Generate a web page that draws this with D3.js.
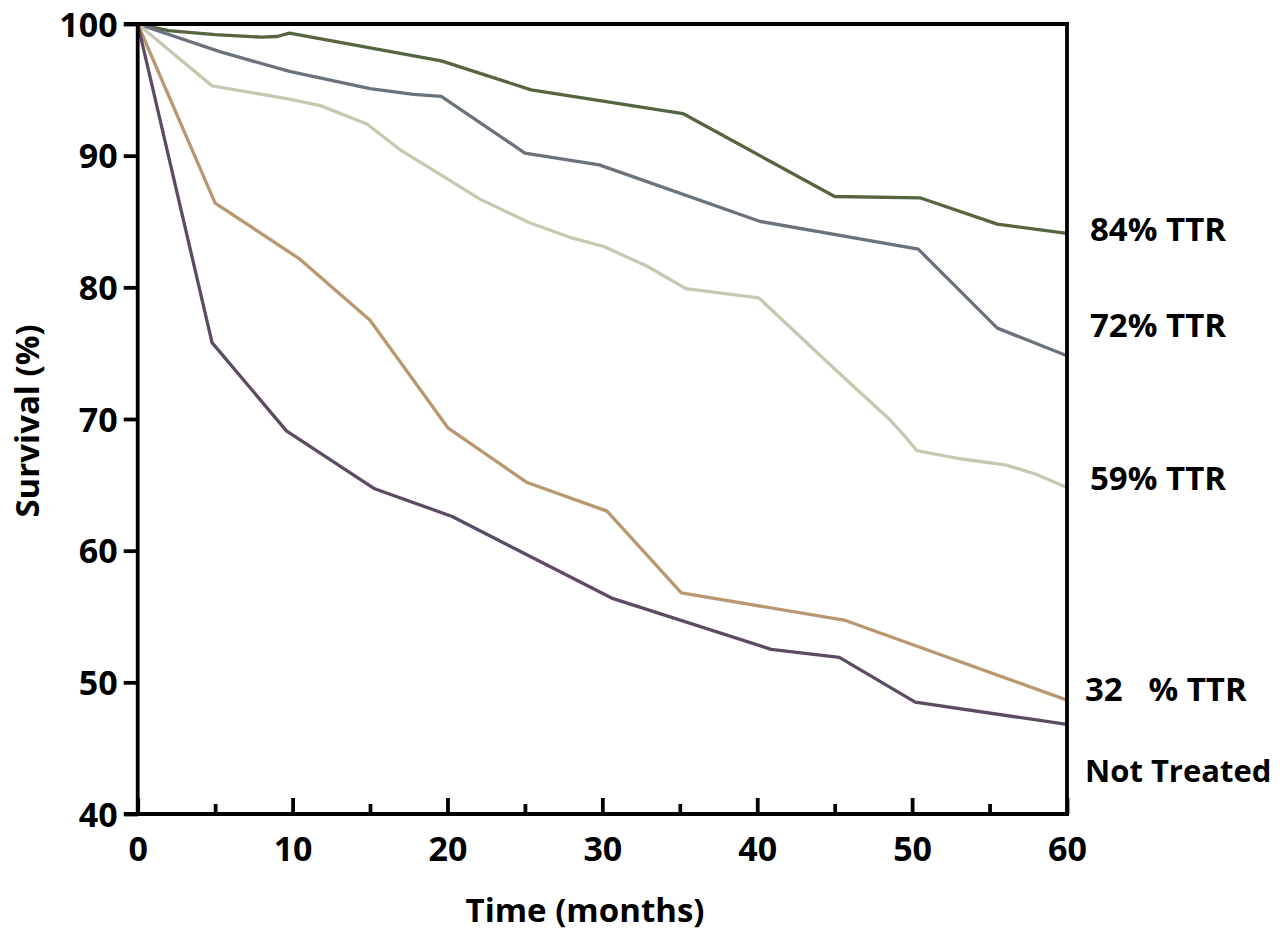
<!DOCTYPE html>
<html>
<head>
<meta charset="utf-8">
<script src="https://cdn.jsdelivr.net/npm/d3@7"></script>
<style>
  html, body { margin: 0; padding: 0; background: #fff; }
  svg { display: block; }
  text { font-family: "Open Sans", "DejaVu Sans", sans-serif; font-weight: 700; fill: #000; }
</style>
</head>
<body>
<svg id="chart" width="1280" height="936"></svg>
<script>
// ---- data ----
const ttr84Months = [0, 2, 5, 8, 9, 9.8, 19.6, 25.4, 35.2, 45.0, 50.5, 55.5, 60];
const ttr84Surv   = [100, 99.5, 99.2, 99.0, 99.05, 99.3, 97.2, 95.0, 93.2, 86.9, 86.8, 84.8, 84.1];

const ttr72Months = [0, 5.3, 9.8, 15, 17.8, 19.6, 25.0, 29.8, 40.2, 50.4, 55.5, 60];
const ttr72Surv   = [100, 97.9, 96.4, 95.1, 94.65, 94.5, 90.2, 89.3, 85.0, 82.9, 76.9, 74.8];

const ttr59Months = [0, 4.8, 9.8, 11.8, 14.8, 17, 19.5, 22.1, 25.3, 27.9, 30.1, 32.9, 35.4, 40.1, 45, 48.6, 49.6, 50.3, 53, 56.1, 58, 60];
const ttr59Surv   = [100, 95.3, 94.3, 93.8, 92.4, 90.4, 88.6, 86.7, 84.9, 83.8, 83.1, 81.6, 79.9, 79.2, 73.8, 69.9, 68.6, 67.6, 67.0, 66.5, 65.8, 64.8];

const ttr32Months = [0, 5.0, 10.4, 15.0, 20.05, 25.1, 30.3, 35.1, 45.7, 60];
const ttr32Surv   = [100, 86.4, 82.2, 77.5, 69.3, 65.2, 63.0, 56.8, 54.7, 48.65];

const untreatedMonths = [0, 4.8, 9.6, 15.3, 20.3, 30.6, 40.9, 45.3, 50.2, 60];
const untreatedSurv   = [100, 75.8, 69.1, 64.7, 62.6, 56.4, 52.5, 51.9, 48.5, 46.8];

const seriesNames  = ["84% TTR", "72% TTR", "59% TTR", "32   % TTR", "Not Treated"];
const seriesColors = ["#56653f", "#6a737d", "#c5c9b0", "#b9976f", "#5d4b63"];

const xTicksMajor = [0, 10, 20, 30, 40, 50, 60];
const xTicksMinor = [5, 15, 25, 35, 45, 55];
const yTicks = [40, 50, 60, 70, 80, 90, 100];

// ---- layout ----
const svg = d3.select("#chart");
const plotL = 137.7, plotR = 1067, plotT = 24, plotB = 814;

const x = d3.scaleLinear().domain([0, 60]).range([plotL, plotR]);
const y = d3.scaleLinear().domain([40, 100]).range([plotB, plotT]);

const series = [
  {name: seriesNames[0], color: seriesColors[0], m: ttr84Months, s: ttr84Surv, ly: 241, lx: 1090, fs: 33},
  {name: seriesNames[1], color: seriesColors[1], m: ttr72Months, s: ttr72Surv, ly: 337, lx: 1090, fs: 33},
  {name: seriesNames[2], color: seriesColors[2], m: ttr59Months, s: ttr59Surv, ly: 490, lx: 1090, fs: 33},
  {name: seriesNames[3], color: seriesColors[3], m: ttr32Months, s: ttr32Surv, ly: 701, lx: 1085, fs: 33},
  {name: seriesNames[4], color: seriesColors[4], m: untreatedMonths, s: untreatedSurv, ly: 782, lx: 1085, fs: 31}
];

const line = d3.line().x(d => x(d[0])).y(d => y(d[1]));

// lines
svg.append("g").selectAll("path").data(series).join("path")
  .attr("d", d => line(d.m.map((v, i) => [v, d.s[i]])))
  .attr("fill", "none")
  .attr("stroke", d => d.color)
  .attr("stroke-width", 3.3)
  .attr("stroke-linejoin", "round");

const axisW = 3.8;

// y axis
const yAxis = svg.append("g").attr("transform", `translate(${plotL},0)`)
  .call(d3.axisLeft(y).tickValues(yTicks).tickSizeInner(14).tickSizeOuter(0).tickPadding(6));
yAxis.select(".domain").remove();
yAxis.selectAll(".tick line").attr("stroke", "#000").attr("stroke-width", axisW);
yAxis.selectAll(".tick text").attr("font-size", 34).attr("font-family", null).attr("fill", "#000").attr("dy", "0.36em");

// x axis ticks (inside)
const xAxis = svg.append("g").attr("transform", `translate(0,${plotB})`)
  .call(d3.axisBottom(x).tickValues(xTicksMajor).tickSizeInner(-16).tickSizeOuter(0).tickPadding(23));
xAxis.select(".domain").remove();
xAxis.selectAll(".tick line").attr("stroke", "#000").attr("stroke-width", axisW);
xAxis.selectAll(".tick text").attr("font-size", 34).attr("font-family", null).attr("fill", "#000").attr("y", 23).attr("dy", "0.72em");

const xMinor = svg.append("g").attr("transform", `translate(0,${plotB})`)
  .call(d3.axisBottom(x).tickValues(xTicksMinor).tickSizeInner(-10).tickSizeOuter(0).tickFormat(""));
xMinor.select(".domain").remove();
xMinor.selectAll(".tick line").attr("stroke", "#000").attr("stroke-width", axisW);

// frame
const frame = svg.append("g").attr("stroke", "#000").attr("stroke-width", axisW).attr("fill", "none");
frame.append("line").attr("x1", 124).attr("x2", plotR + axisW / 2).attr("y1", plotT).attr("y2", plotT);
frame.append("line").attr("x1", 124).attr("x2", plotR + axisW / 2).attr("y1", plotB).attr("y2", plotB);
frame.append("line").attr("x1", plotL).attr("x2", plotL).attr("y1", plotT - axisW / 2).attr("y2", plotB + axisW / 2);
frame.append("line").attr("x1", plotR).attr("x2", plotR).attr("y1", plotT - axisW / 2).attr("y2", plotB + axisW / 2);

// axis titles
svg.append("text").attr("x", 585).attr("y", 922).attr("text-anchor", "middle")
  .attr("font-size", 33).text("Time (months)");
svg.append("text").attr("transform", "translate(39,421) rotate(-90)").attr("text-anchor", "middle")
  .attr("font-size", 33).text("Survival (%)");

// series labels
svg.append("g").selectAll("text").data(series).join("text")
  .attr("x", d => d.lx)
  .attr("y", d => d.ly)
  .attr("font-size", d => d.fs)
  .attr("xml:space", "preserve")
  .style("white-space", "pre")
  .text(d => d.name);
</script>
</body>
</html>
